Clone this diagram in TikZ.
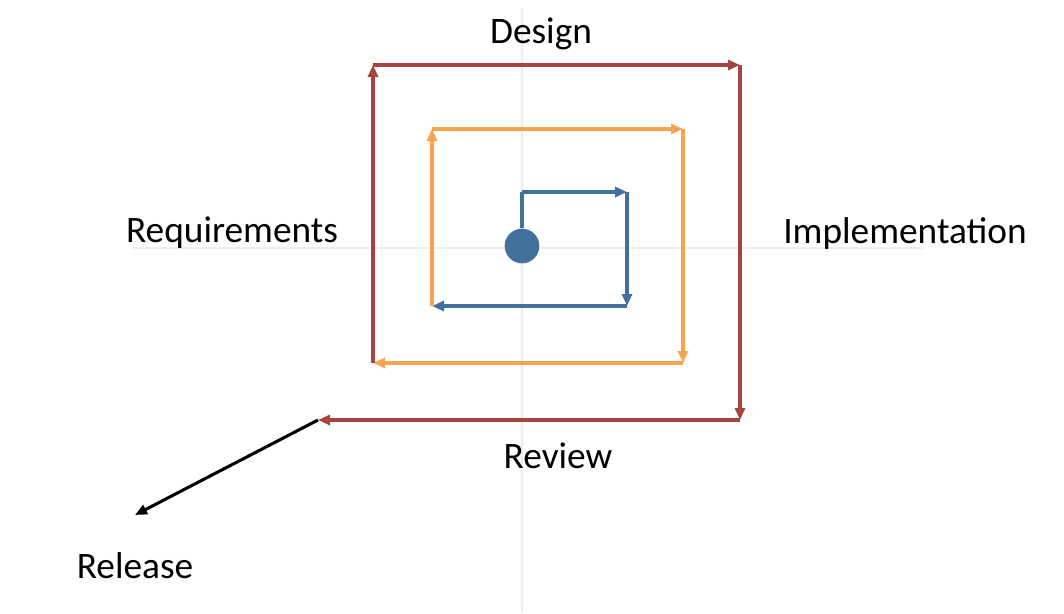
\documentclass[tikz,border=0pt]{standalone}
\usepackage{fontspec}
\setmainfont{Carlito}
\usetikzlibrary{arrows.meta}
\definecolor{spiralred}{HTML}{A8443F}
\definecolor{spiralorange}{HTML}{F9A34F}
\definecolor{spiralblue}{HTML}{41719C}
\definecolor{axisgray}{HTML}{EFEEE8}
\begin{document}
\begin{tikzpicture}[x=0.75pt,y=-0.75pt,
  turn/.style={line width=2.3pt,-{Triangle[length=9pt,width=7.5pt]}},
  phase/.style={font=\fontsize{28}{33}\selectfont,anchor=base}]
  \useasboundingbox (0,0) rectangle (1064,614);
  % faint axes
  \draw[axisgray,line width=1.1pt] (522,8) -- (522,612);
  \draw[axisgray,line width=1.1pt] (133,248) -- (923,248);
  % corners of the spiral
  \coordinate (b0) at (522,192);
  \coordinate (b1) at (627,192);
  \coordinate (b2) at (627,306);
  \coordinate (b3) at (432,306);
  \coordinate (o1) at (432,129);
  \coordinate (o2) at (683,129);
  \coordinate (o3) at (683,363);
  \coordinate (o4) at (373,363);
  \coordinate (r1) at (373,65);
  \coordinate (r2) at (740,65);
  \coordinate (r3) at (740,420);
  \coordinate (r4) at (318,420);
  \coordinate (rel) at (135,515);
  \node[circle,fill=spiralblue,inner sep=0pt,minimum size=26pt] (start) at (522,246) {};
  % inner turn
  \draw[spiralblue,line width=2.3pt] (start) -- (b0);
  \draw[turn,spiralblue] (b0) -- (b1);
  \draw[turn,spiralblue] (b1) -- (b2);
  \draw[turn,spiralblue] (b2) -- (b3);
  % middle turn
  \draw[turn,spiralorange] (b3) -- (o1);
  \draw[turn,spiralorange] (o1) -- (o2);
  \draw[turn,spiralorange] (o2) -- (o3);
  \draw[turn,spiralorange] (o3) -- (o4);
  % outer turn
  \draw[turn,spiralred] (o4) -- (r1);
  \draw[turn,spiralred] (r1) -- (r2);
  \draw[turn,spiralred] (r2) -- (r3);
  \draw[turn,spiralred] (r3) -- (r4);
  \draw[turn,black] (r4) -- (rel);
  % phase labels
  \node[phase] (design) at (541,43) {Design};
  \node[phase] (requirements) at (232,242) {Requirements};
  \node[phase] (implementation) at (905,243) {Implementation};
  \node[phase] (review) at (558,468) {Review};
  \node[phase] (release) at (135,578) {Release};
\end{tikzpicture}
\end{document}
